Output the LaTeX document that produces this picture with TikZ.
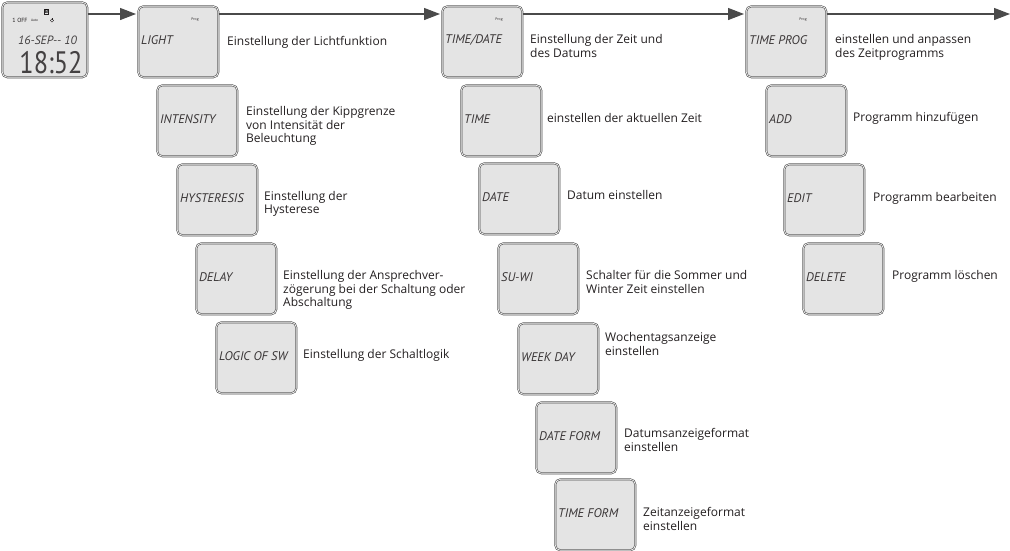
\documentclass[tikz,border=0pt]{standalone}
\usepackage{fontspec}
\setmainfont{Open Sans}
\newfontfamily\lcdfont{PT Sans}
\usetikzlibrary{arrows.meta}
\definecolor{lcdfill}{HTML}{E4E4E4}
\definecolor{frame}{HTML}{4A4A4A}
\definecolor{ink}{HTML}{231F20}
\begin{document}
\begin{tikzpicture}[x=1pt,y=-1pt,
  lcdbox/.style={draw=frame, line width=.6pt, double=white, double distance=.7pt, fill=lcdfill, rounded corners=5pt, minimum width=80pt, minimum height=71pt, inner sep=0pt, anchor=north west},
  lcdlabel/.style={font=\lcdfont\fontsize{12.5}{12.5}\selectfont\itshape, text=ink!90, anchor=west, inner sep=0pt},
  prog/.style={font=\fontsize{3.5}{3.5}\selectfont, text=ink, inner sep=0pt},
  desc/.style={font=\fontsize{12}{13}\selectfont, text=ink, align=left, anchor=north west, inner sep=0pt},
  arr/.style={draw=frame, line width=1.3pt, -{Triangle[length=16pt,width=12pt]}, shorten >=2pt}
]
\useasboundingbox (0,0) rectangle (1010,550);

% ---------- start display ----------
\node[lcdbox, minimum width=85pt, minimum height=75pt] (dev) at (2,2) {};
\node[draw=ink, line width=.5pt, inner sep=.7pt, font=\lcdfont\fontsize{5}{5}\selectfont\bfseries] (bicon) at (46.5,12) {B};
\node[font=\lcdfont\fontsize{6}{6}\selectfont, text=ink, inner sep=0pt] (off) at (20,20.5) {1 OFF};
\node[font=\lcdfont\fontsize{3.5}{3.5}\selectfont, text=ink, inner sep=0pt] (auto) at (34.5,20.5) {Auto};
\draw[ink, line width=.4pt] (52,20.5) circle (1.6);
\draw[ink, line width=.4pt] (52,18.2) -- (52,20.2);
\node[font=\lcdfont\fontsize{12}{12}\selectfont\itshape, text=ink!85, inner sep=0pt] (date) at (47.5,40) {16-SEP{-}{-} 10};
\node[font=\lcdfont\fontsize{31}{31}\selectfont, text=ink!85, inner sep=0pt, xscale=.85, transform shape] (clock) at (51,62.5) {18:52};

% ---------- main menu boxes ----------
\node[lcdbox] (light) at (138,6) {};
\node[lcdbox] (timedate) at (442,6) {};
\node[lcdbox] (timeprog) at (746,6) {};
\foreach \b in {light,timedate,timeprog}
  \node[prog] at ([xshift=57pt,yshift=-14pt]\b.north west) {Prog};

% ---------- column 1 ----------
\node[lcdbox] (intensity) at (157,85) {};
\node[lcdbox] (hysteresis) at (177,164) {};
\node[lcdbox] (delay) at (196,243) {};
\node[lcdbox] (logic) at (216,322) {};

% ---------- column 2 ----------
\node[lcdbox] (time) at (461,85) {};
\node[lcdbox] (dat) at (479,163) {};
\node[lcdbox] (suwi) at (498,243) {};
\node[lcdbox] (weekday) at (518,323) {};
\node[lcdbox] (dateform) at (536,402) {};
\node[lcdbox] (timeform) at (555,479) {};

% ---------- column 3 ----------
\node[lcdbox] (add) at (766,85) {};
\node[lcdbox] (edit) at (784,164) {};
\node[lcdbox] (delete) at (803,243) {};

% ---------- LCD labels ----------
\foreach \b/\t in {light/{LIGHT}, intensity/{INTENSITY}, hysteresis/{HYSTERESIS}, delay/{DELAY}, logic/{LOGIC OF SW},
                   timedate/{TIME/DATE}, time/{TIME}, dat/{DATE}, suwi/{SU-WI}, weekday/{WEEK DAY}, dateform/{DATE FORM}, timeform/{TIME FORM},
                   timeprog/{TIME PROG}, add/{ADD}, edit/{EDIT}, delete/{DELETE}}
  \node[lcdlabel] (\b-lbl) at ([xshift=3pt,yshift=-34pt]\b.north west) {\t};

% ---------- descriptions ----------
\node[desc] (d-light) at (227,36) {\strut Einstellung der Lichtfunktion};
\node[desc] (d-intensity) at (246,106) {\strut Einstellung der Kippgrenze\\von Intensität der\\Beleuchtung};
\node[desc] (d-hysteresis) at (264,191) {\strut Einstellung der\\Hysterese};
\node[desc] (d-delay) at (283,270) {\strut Einstellung der Ansprechver-\\zögerung bei der Schaltung oder\\Abschaltung};
\node[desc] (d-logic) at (303,349) {\strut Einstellung der Schaltlogik};

\node[desc] (d-timedate) at (530,34) {\strut Einstellung der Zeit und\\des Datums};
\node[desc] (d-time) at (547,113) {\strut einstellen der aktuellen Zeit};
\node[desc] (d-date) at (567,190) {\strut Datum einstellen};
\node[desc] (d-suwi) at (586,270) {\strut Schalter für die Sommer und\\Winter Zeit einstellen};
\node[desc] (d-weekday) at (605,332) {\strut Wochentagsanzeige\\einstellen};
\node[desc] (d-dateform) at (624,428) {\strut Datumsanzeigeformat\\einstellen};
\node[desc] (d-timeform) at (643,507) {\strut Zeitanzeigeformat\\einstellen};

\node[desc] (d-timeprog) at (835,34) {\strut einstellen und anpassen\\des Zeitprogramms};
\node[desc] (d-add) at (853,112) {\strut Programm hinzufügen};
\node[desc] (d-edit) at (873,192) {\strut Programm bearbeiten};
\node[desc] (d-delete) at (892,270) {\strut Programm löschen};

% ---------- connectors ----------
\coordinate (rail) at (0,14);
\coordinate (end) at (1010,14);
\draw[arr] (dev.east |- rail) -- (light.west |- rail);
\draw[arr] (light.east |- rail) -- (timedate.west |- rail);
\draw[arr] (timedate.east |- rail) -- (timeprog.west |- rail);
\draw[arr, shorten >=0pt] (timeprog.east |- rail) -- (end);
\end{tikzpicture}
\end{document}
